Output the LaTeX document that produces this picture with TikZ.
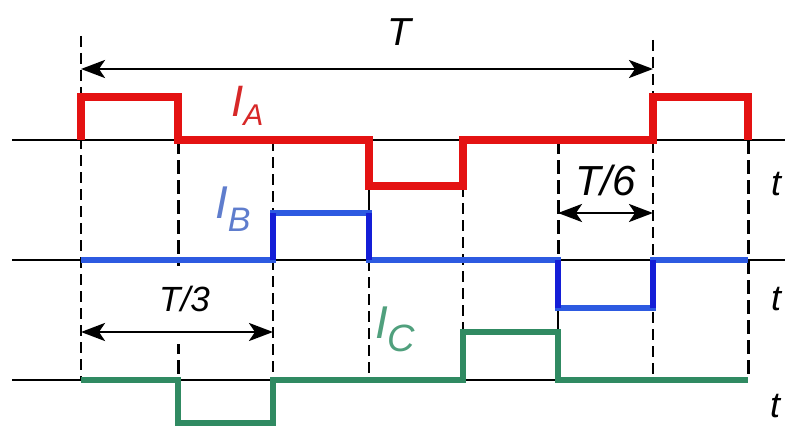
\documentclass[tikz,border=0pt]{standalone}
\usepackage{fontspec}
\setmainfont{Liberation Sans}
\usetikzlibrary{arrows.meta}
\definecolor{sigred}{RGB}{228,18,18}
\definecolor{sigblue}{RGB}{45,90,225}
\definecolor{sigblueV}{RGB}{20,30,215}
\definecolor{siggreen}{RGB}{48,138,98}
\definecolor{lblblue}{RGB}{95,125,205}
\definecolor{lblgreen}{RGB}{80,160,125}
\definecolor{lblred}{RGB}{215,40,40}
\tikzset{
  axisline/.style={line width=2.8pt, black},
  thindash/.style={line width=1.5pt, black, dash pattern=on 11pt off 6pt},
  thickdash/.style={line width=3pt, black, dash pattern=on 14pt off 6pt},
  thinsolid/.style={line width=1.7pt, black},
  sigA/.style={line width=7.5pt, sigred, line join=miter},
  sigB/.style={line width=6.5pt, sigblue, line join=miter},
  sigC/.style={line width=6.5pt, siggreen, line join=miter},
  dimarrow/.style={line width=2.8pt, black, arrows={Stealth[length=24pt,width=18pt,inset=6pt]-Stealth[length=24pt,width=18pt,inset=6pt]}},
  lbl/.style={inner sep=0pt, anchor=base west, font=\itshape},
}
\begin{document}
\begin{tikzpicture}[x=1pt,y=-1pt]
\useasboundingbox (0,0) rectangle (785,428);
\fill[white] (0,0) rectangle (785,428);
% time marks
\def\xa{81}\def\xb{178}\def\xc{273}\def\xd{369}\def\xe{463}\def\xf{558}\def\xg{653}\def\xh{748}
% levels
\def\Ahi{97}\def\Az{140}\def\Alo{186}
\def\Bhi{213}\def\Bz{260}\def\Blo{308}
\def\Chi{332}\def\Cz{380}\def\Clo{423}
% axes
\draw[axisline] (12,\Az) -- (785,\Az);
\draw[axisline] (12,\Bz) -- (785,\Bz);
\draw[axisline] (12,\Cz) -- (\xh,\Cz);
% dashed guides
\draw[thindash] (\xa,36) -- (\xa,\Cz);
\draw[thickdash] (\xb,\Az) -- (\xb,\Cz);
\draw[thindash] (\xc,\Az) -- (\xc,\Cz);
\draw[thinsolid] (\xd,\Alo) -- (\xd,\Bhi);
\draw[thindash] (\xd,\Bz) -- (\xd,\Cz);
\draw[thindash] (\xe,\Alo) -- (\xe,\Chi);
\draw[thickdash] (\xf,\Az) -- (\xf,\Bz);
\draw[thinsolid] (\xf,\Blo) -- (\xf,\Chi);
\draw[thindash] (\xg,40) -- (\xg,\Cz);
\draw[thickdash] (\xh,\Az) -- (\xh,\Cz);
% white patch behind T/3
\fill[white] (165,266) rectangle (192,344);
% signals
\draw[sigA] (\xa,\Az) -- (\xa,\Ahi) -- (\xb,\Ahi) -- (\xb,\Az) -- (\xd,\Az) -- (\xd,\Alo) -- (\xe,\Alo) -- (\xe,\Az) -- (\xg,\Az) -- (\xg,\Ahi) -- (\xh,\Ahi) -- (\xh,\Az);
\draw[sigB] (\xa,\Bz) -- (\xc,\Bz) -- (\xc,\Bhi) -- (\xd,\Bhi) -- (\xd,\Bz) -- (\xf,\Bz) -- (\xf,\Blo) -- (\xg,\Blo) -- (\xg,\Bz) -- (\xh,\Bz);
\draw[sigblueV, line width=6.5pt] (\xc,\Bz) -- (\xc,\Bhi) (\xd,\Bhi) -- (\xd,\Bz) (\xf,\Bz) -- (\xf,\Blo) (\xg,\Blo) -- (\xg,\Bz);
\draw[sigC] (\xa,\Cz) -- (\xb,\Cz) -- (\xb,\Clo) -- (\xc,\Clo) -- (\xc,\Cz) -- (\xe,\Cz) -- (\xe,\Chi) -- (\xf,\Chi) -- (\xf,\Cz) -- (\xh,\Cz);
% dimension arrows
\coordinate (Ts) at (\xa,69); \coordinate (Te) at (\xg,69);
\coordinate (T6s) at (\xf,213); \coordinate (T6e) at (\xg,213);
\coordinate (T3s) at (\xa,332); \coordinate (T3e) at (\xc,332);
\draw[dimarrow] (Ts) -- (Te);
\draw[dimarrow] (T6s) -- (T6e);
\draw[dimarrow] (T3s) -- (T3e);
% labels
\node[lbl, font=\itshape\fontsize{39}{39}\selectfont] (lT) at (387,46) {T};
\node[lbl, font=\itshape\fontsize{42}{42}\selectfont] (lT6) at (575,195) {T/6};
\node[lbl, font=\itshape\fontsize{35}{35}\selectfont] (lT3) at (159,311) {T/3};
\node[lbl, lblred, font=\itshape\fontsize{44}{44}\selectfont] (lIA) at (231,117) {I\raisebox{-0.2em}{\fontsize{30}{30}\selectfont A}};
\node[lbl, lblblue, font=\itshape\fontsize{46}{46}\selectfont] (lIB) at (215,218) {I\raisebox{-0.3em}{\fontsize{34}{34}\selectfont B}};
\node[lbl, lblgreen, font=\itshape\fontsize{46}{46}\selectfont] (lIC) at (375,338) {I\raisebox{-0.3em}{\fontsize{38}{38}\selectfont C}};
\node[lbl, font=\itshape\fontsize{36}{36}\selectfont] (t1) at (771,195) {t};
\node[lbl, font=\itshape\fontsize{36}{36}\selectfont] (t2) at (771,310) {t};
\node[lbl, font=\itshape\fontsize{36}{36}\selectfont] (t3) at (770,417) {t};
\end{tikzpicture}
\end{document}
